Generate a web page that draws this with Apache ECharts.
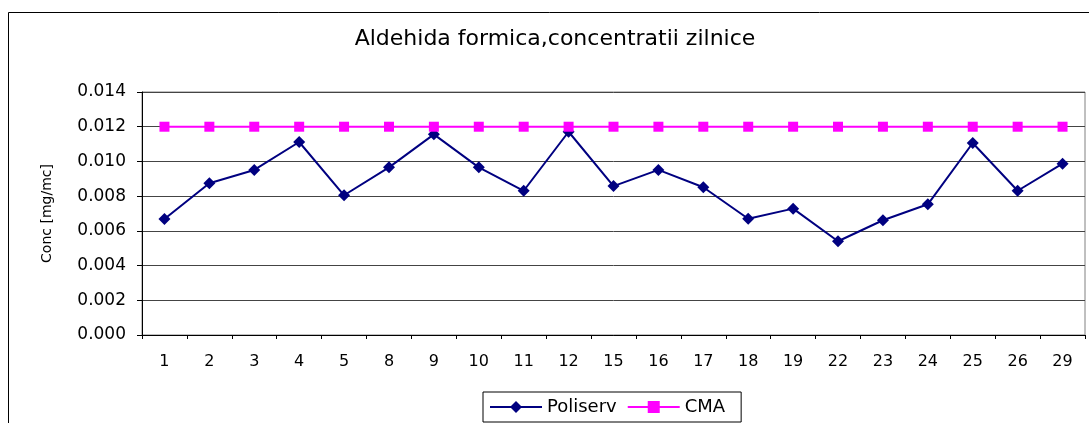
<!DOCTYPE html>
<html>
<head>
<meta charset="utf-8">
<script src="https://cdn.jsdelivr.net/npm/echarts@6/dist/echarts.min.js"></script>
<style>html,body{margin:0;padding:0;background:#fff;}#c{width:1089px;height:423px;}</style>
</head>
<body>
<div id="c"></div>
<script>
const categories = ['1','2','3','4','5','8','9','10','11','12','15','16','17','18','19','22','23','24','25','26','29'];
const poliserv = [0.00668,0.00874,0.00951,0.01112,0.00805,0.00966,0.01156,0.00966,0.00831,0.01171,0.00858,0.00951,0.00851,0.00670,0.00728,0.00540,0.00661,0.00753,0.01106,0.00831,0.00987];
const cma = [0.012,0.012,0.012,0.012,0.012,0.012,0.012,0.012,0.012,0.012,0.012,0.012,0.012,0.012,0.012,0.012,0.012,0.012,0.012,0.012,0.012];
const yTicks = {min: 0, max: 0.014, interval: 0.002};

const FONT = 'DejaVu Sans';
const chart = echarts.init(document.getElementById('c'), null, {renderer: 'canvas'});
chart.setOption({
  backgroundColor: '#fff',
  animation: false,
  title: {
    text: 'Aldehida formica,concentratii zilnice',
    left: 550, top: 23, textAlign: 'center',
    textStyle: {fontFamily: FONT, fontSize: 22, fontWeight: 'normal', color: '#000'}
  },
  graphic: [{
    type: 'rect', silent: true, z: -1,
    shape: {x: 8.5, y: 12.5, width: 1200, height: 600},
    style: {fill: 'none', stroke: '#000', lineWidth: 1}
  }],
  legend: {
    left: 483, top: 392,
    padding: [6, 16, 6, 6],
    itemWidth: 52, itemHeight: 15, itemGap: 10,
    borderColor: '#000', borderWidth: 1,
    textStyle: {fontFamily: FONT, fontSize: 18, color: '#000'},
    data: ['Poliserv', 'CMA']
  },
  grid: {left: 142, right: 4, top: 92, bottom: 88, show: true, borderColor: '#808080', borderWidth: 1},
  xAxis: {
    type: 'category', data: categories, boundaryGap: true,
    axisLine: {lineStyle: {color: '#000', width: 1}},
    axisTick: {show: true, length: 4, inside: false, interval: 0, lineStyle: {color: '#000'}},
    axisLabel: {interval: 0, margin: 19, fontFamily: FONT, fontSize: 16, color: '#000'},
    splitLine: {show: false}
  },
  yAxis: {
    type: 'value', min: yTicks.min, max: yTicks.max, interval: yTicks.interval,
    name: 'Conc [mg/mc]', nameLocation: 'middle', nameGap: 88,
    nameTextStyle: {fontFamily: FONT, fontSize: 14, color: '#000'},
    axisLine: {show: true, lineStyle: {color: '#000', width: 1}},
    axisTick: {show: true, length: 5, lineStyle: {color: '#000'}},
    axisLabel: {margin: 16, fontFamily: FONT, fontSize: 17, color: '#000', formatter: v => v.toFixed(3)},
    splitLine: {show: true, lineStyle: {color: '#444', width: 1}}
  },
  series: [
    {
      name: 'Poliserv', type: 'line', data: poliserv,
      symbol: 'diamond', symbolSize: 12, showAllSymbol: true,
      lineStyle: {color: '#000080', width: 2},
      itemStyle: {color: '#000080'}
    },
    {
      name: 'CMA', type: 'line', data: cma,
      symbol: 'rect', symbolSize: 10, showAllSymbol: true,
      lineStyle: {color: '#FF00FF', width: 2},
      itemStyle: {color: '#FF00FF'}
    }
  ]
});
</script>
</body>
</html>
